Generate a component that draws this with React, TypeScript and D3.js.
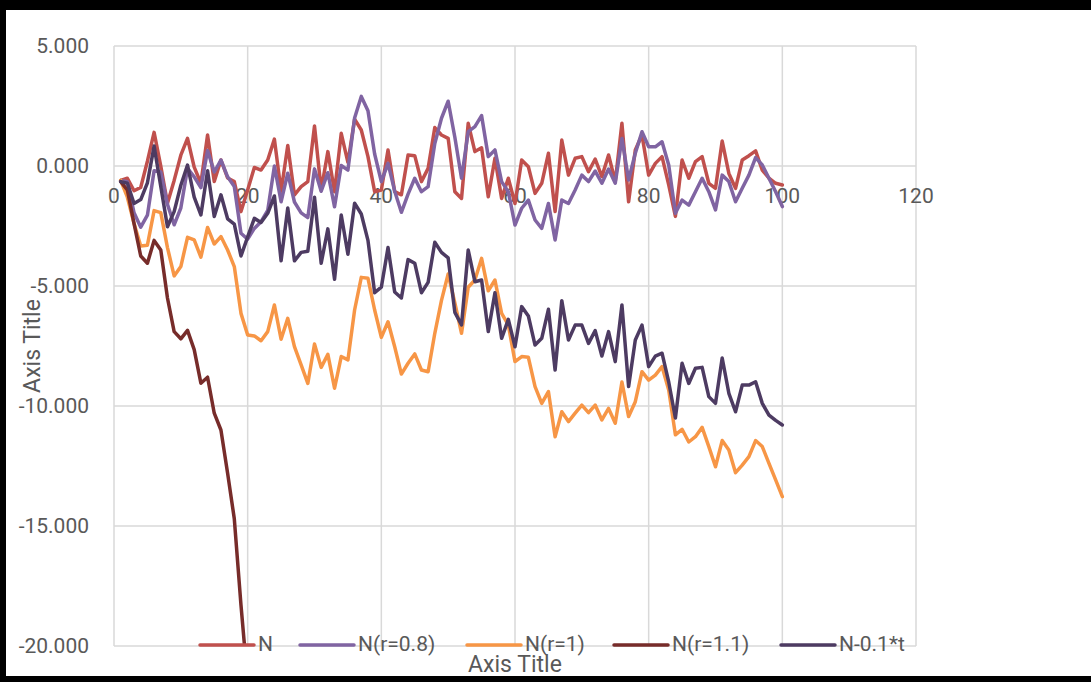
import React from 'react';
import * as d3 from 'd3';

// Time steps shared by every series
const steps: number[] = d3.range(1, 101);

const seriesNames = ['N', 'N(r=0.8)', 'N(r=1)', 'N(r=1.1)', 'N-0.1*t'];
const seriesColors = ['#C0504D', '#8064A2', '#F79646', '#772C2A', '#4D3B62'];

const valuesN = [
  -0.60, -0.51, -1.03, -0.89, 0.20, 1.40, 0.00, -1.55, -0.60, 0.45,
  1.15, -0.05, -0.72, 1.29, -0.65, 0.25, -0.50, -0.65, -1.90, -1.00,
  -0.06, -0.17, 0.25, 1.12, -1.05, 0.85, -1.20, -0.86, -0.65, 1.67,
  -1.00, 0.60, -1.07, 1.36, 0.15, 1.95, 1.50, 0.39, -1.07, -1.00,
  0.67, -1.07, -1.20, 0.46, 0.43, -0.65, -0.10, 1.60, 1.29, 1.15,
  -1.07, -1.35, 1.78, 0.60, 0.76, -1.28, 0.32, -1.35, -0.51, -1.56,
  0.25, -0.03, -1.14, -0.72, 0.53, -1.90, 1.08, -0.38, 0.32, 0.39,
  -0.24, 0.29, -0.44, 0.46, -0.65, 1.78, -1.49, 0.67, 1.29, -0.38,
  0.11, 0.39, -0.79, -2.10, 0.25, -0.51, 0.18, 0.39, -0.72, -0.93,
  1.04, -0.31, -0.93, 0.25, 0.43, 0.63, -0.17, -0.51, -0.72, -0.79,
];

const valuesR08 = [
  -0.60, -0.65, -1.95, -2.55, -2.05, -0.20, -0.25, -1.60, -2.45, -1.75,
  -0.10, -0.45, -0.90, 0.65, -0.25, 0.25, -0.45, -0.85, -2.80, -3.05,
  -2.60, -2.32, -1.85, 0.00, -1.49, -0.30, -1.50, -1.95, -2.15, -0.12,
  -1.05, -0.28, -1.70, 0.02, -0.17, 2.00, 2.90, 2.30, 0.50, -0.65,
  0.11, -1.05, -1.93, -1.17, -0.51, -1.07, -0.86, 0.94, 1.99, 2.70,
  1.20, -0.51, 1.43, 1.64, 2.10, 0.39, 0.67, -0.65, -1.07, -2.46,
  -1.76, -1.42, -2.25, -2.60, -1.56, -3.08, -1.42, -1.56, -1.00, -0.38,
  -0.65, -0.21, -0.72, -0.13, -0.72, 1.15, -0.58, 0.53, 1.43, 0.80,
  0.80, 1.01, 0.04, -1.97, -1.42, -1.63, -1.07, -0.51, -1.07, -1.83,
  -0.38, -0.65, -1.49, -0.93, -0.38, 0.35, 0.04, -0.51, -1.07, -1.69,
];

const valuesR1 = [
  -0.60, -1.30, -2.40, -3.33, -3.30, -1.86, -1.94, -3.40, -4.58, -4.19,
  -2.97, -3.08, -3.80, -2.56, -3.25, -2.94, -3.50, -4.19, -6.14, -7.04,
  -7.08, -7.28, -6.90, -5.79, -7.22, -6.35, -7.53, -8.29, -9.06, -7.42,
  -8.39, -7.85, -9.26, -7.94, -8.08, -6.00, -4.64, -4.68, -6.00, -7.14,
  -6.49, -7.53, -8.67, -8.22, -7.83, -8.50, -8.57, -6.97, -5.60, -4.50,
  -5.70, -6.97, -5.05, -4.75, -3.85, -5.20, -4.75, -6.14, -6.62, -8.15,
  -7.94, -7.97, -9.19, -9.89, -9.40, -11.28, -10.24, -10.65, -10.30, -9.96,
  -10.28, -9.96, -10.58, -10.10, -10.72, -9.00, -10.44, -9.82, -8.57, -8.92,
  -8.71, -8.36, -9.33, -11.20, -10.97, -11.50, -11.28, -10.89, -11.69, -12.53,
  -11.44, -11.83, -12.78, -12.46, -12.11, -11.44, -11.69, -12.39, -13.08, -13.78,
];

// Diverges quickly; values past the axis minimum are clipped by the plot area
const valuesR11 = [
  -0.65, -1.00, -2.40, -3.75, -4.05, -3.10, -3.50, -5.50, -6.90, -7.20,
  -6.85, -7.65, -9.05, -8.80, -10.30, -11.00, -12.80, -14.70, -18.30, -21.50,
];

const valuesTrend = [
  -0.65, -0.72, -1.56, -1.40, -0.70, 0.83, -0.85, -2.53, -1.90, -0.80,
  0.04, -1.30, -2.04, -0.20, -2.10, -1.20, -2.20, -2.42, -3.75, -2.95,
  -2.18, -2.35, -1.97, -1.25, -3.95, -1.75, -3.95, -3.60, -3.55, -1.30,
  -4.05, -2.62, -4.72, -2.04, -3.68, -1.55, -2.00, -3.10, -5.28, -5.05,
  -3.40, -5.25, -5.50, -3.90, -4.05, -5.28, -4.85, -3.18, -3.60, -3.83,
  -6.10, -6.62, -3.50, -4.82, -4.75, -6.90, -5.28, -7.18, -6.39, -7.53,
  -5.86, -6.25, -7.46, -7.18, -5.97, -8.50, -5.61, -7.25, -6.63, -6.63,
  -7.39, -6.86, -7.92, -6.90, -8.15, -5.79, -9.19, -7.25, -6.63, -8.36,
  -7.92, -7.80, -9.00, -10.50, -8.22, -9.06, -8.43, -8.39, -9.61, -9.89,
  -8.00, -9.47, -10.24, -9.13, -9.13, -8.99, -9.89, -10.38, -10.60, -10.79,
];

const allSeries = [valuesN, valuesR08, valuesR1, valuesR11, valuesTrend];

const xTicks = [0, 20, 40, 60, 80, 100, 120];
const yTicks = [5, 0, -5, -10, -15, -20];
const axisTitleX = 'Axis Title';
const axisTitleY = 'Axis Title';

const W = 1091;
const H = 682;
const FONT = "Roboto, 'Noto Sans', sans-serif";
const TEXT = '#595959';
const GRID = '#d9d9d9';

const fmt = d3.formatLocale({
  decimal: '.',
  thousands: ',',
  grouping: [3],
  currency: ['', ''],
  minus: '-',
}).format('.3f');

export default function App() {
  const x = d3.scaleLinear().domain([0, 120]).range([114, 916]);
  const y = d3.scaleLinear().domain([-20, 5]).range([646, 46]);

  const line = d3
    .line<number>()
    .x((_, i) => x(steps[i]))
    .y((d) => y(d));

  const [x0, x1] = x.range();
  const [y0, y1] = [y(5), y(-20)];

  // legend entry start positions along the bottom row
  const legendStarts = [200, 300, 467, 614, 781];
  const legendLine = 54;
  const legendY = 645;

  return (
    <svg
      width={W}
      height={H}
      viewBox={`0 0 ${W} ${H}`}
      style={{ position: 'absolute', left: 0, top: 0, display: 'block', background: '#fff' }}
      fontFamily={FONT}
    >
      <defs>
        <clipPath id="plot-clip">
          <rect x={x0} y={y0} width={x1 - x0} height={y1 - y0} />
        </clipPath>
      </defs>
      <rect x={0} y={0} width={W} height={H} fill="#fff" />

      {/* gridlines */}
      {yTicks.map((t) => (
        <line key={`gy${t}`} x1={x0} x2={x1} y1={y(t)} y2={y(t)} stroke={GRID} strokeWidth={1.5} />
      ))}
      {xTicks.map((t) => (
        <line key={`gx${t}`} x1={x(t)} x2={x(t)} y1={y0} y2={y1} stroke={GRID} strokeWidth={1.5} />
      ))}

      {/* y tick labels */}
      {yTicks.map((t) => (
        <text
          key={`ly${t}`}
          x={89}
          y={y(t)}
          textAnchor="end"
          dominantBaseline="central"
          fontSize={21}
          fill={TEXT}
        >
          {fmt(t)}
        </text>
      ))}

      {/* x tick labels, placed under the axis that crosses at zero */}
      {xTicks.map((t) => (
        <text key={`lx${t}`} x={x(t)} y={y(0) + 37} textAnchor="middle" fontSize={21} fill={TEXT}>
          {t}
        </text>
      ))}

      {/* series */}
      <g clipPath="url(#plot-clip)">
        {allSeries.map((vals, si) => (
          <path
            key={seriesNames[si]}
            d={line(vals) || ''}
            fill="none"
            stroke={seriesColors[si]}
            strokeWidth={3.5}
            strokeLinejoin="round"
            strokeLinecap="round"
          />
        ))}
      </g>

      {/* axis titles */}
      <text
        transform={`translate(32, ${(y0 + y1) / 2}) rotate(-90)`}
        textAnchor="middle"
        dominantBaseline="central"
        fontSize={23}
        fill={TEXT}
      >
        {axisTitleY}
      </text>
      <text x={(x0 + x1) / 2} y={664} textAnchor="middle" dominantBaseline="central" fontSize={23} fill={TEXT}>
        {axisTitleX}
      </text>

      {/* legend */}
      {seriesNames.map((name, i) => (
        <g key={`lg${name}`}>
          <line
            x1={legendStarts[i]}
            x2={legendStarts[i] + legendLine}
            y1={legendY}
            y2={legendY}
            stroke={seriesColors[i]}
            strokeWidth={3.5}
            strokeLinecap="round"
          />
          <text
            x={legendStarts[i] + legendLine + 4}
            y={legendY - 1}
            dominantBaseline="central"
            fontSize={21}
            fill={TEXT}
          >
            {name}
          </text>
        </g>
      ))}

      {/* outer frame */}
      <rect x={0} y={0} width={W} height={10} fill="#000" />
      <rect x={0} y={0} width={6} height={H} fill="#000" />
      <rect x={0} y={676} width={W} height={6} fill="#000" />
    </svg>
  );
}
